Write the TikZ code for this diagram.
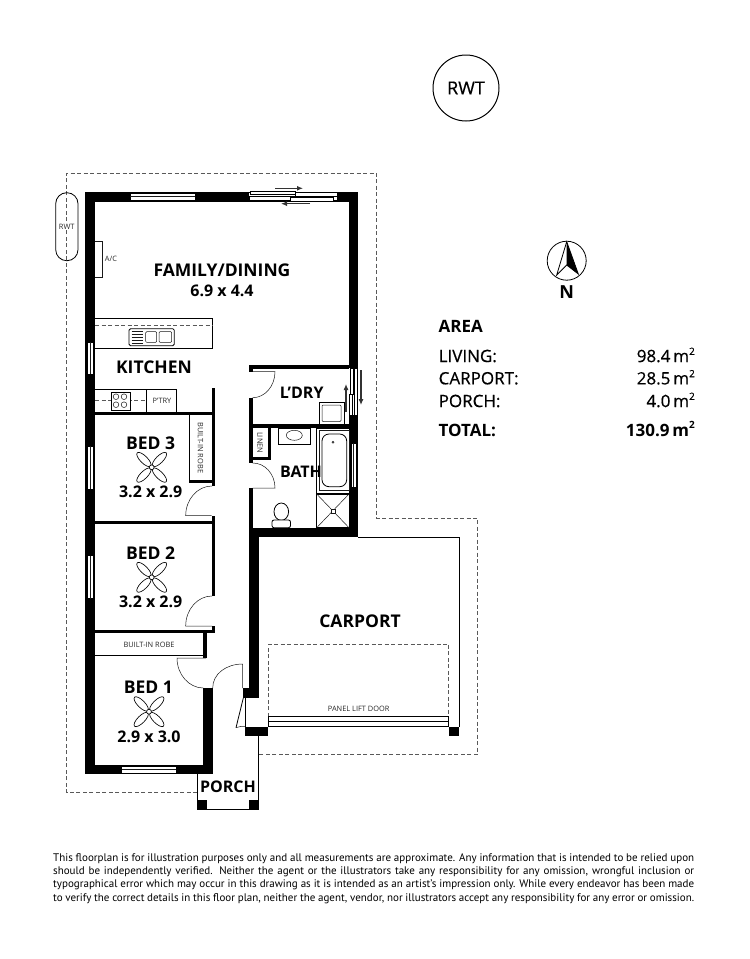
\documentclass[tikz,border=0pt]{standalone}
\usepackage{fontspec}
\setmainfont{Open Sans}
\newfontfamily\semi[FakeBold=0.5]{Open Sans}
\newfontfamily\finefont{PT Sans}
\usetikzlibrary{arrows.meta}
\tikzset{
    wall/.style={fill=black},
    fine/.style={draw=black, line width=0.8pt},
    hair/.style={draw=black!90, line width=0.5pt},
    pane/.style={draw=black, fill=white, line width=0.6pt},
    boundary/.style={draw=black!65, line width=0.6pt, dash pattern=on 4pt off 2.5pt},
    slide/.style={draw=black!80, line width=1.1pt, -{Latex[length=6pt,width=5pt]}},
    room/.style={font=\bfseries\fontsize{17.5}{18}\selectfont},
    wetroom/.style={font=\bfseries\fontsize{16}{16}\selectfont},
    size/.style={font=\bfseries\fontsize{16}{16}\selectfont},
    tiny/.style={font=\fontsize{7.4}{8}\selectfont, text=black!85},
    area/.style={font=\semi\fontsize{17}{17}\selectfont, anchor=west, inner sep=0pt},
    amount/.style={font=\semi\fontsize{17}{17}\selectfont, anchor=east, inner sep=0pt},
    sum/.style={font=\bfseries\fontsize{17}{17}\selectfont},
    blade/.style={draw=black, line width=0.65pt, fill=white},
}
\newcommand{\ceilingfan}[2]{%
    \foreach \a in {45,135,225,315}
        \draw[blade, rotate around={\a:(#1,#2)}] (#1+11,#2) ellipse (9.5 and 3.6);
    \draw[blade] (#1,#2) circle (2.4);
}
\newcommand{\wallpane}[4]{%
    \draw[pane] (#1,#2) rectangle (#3,#4);
}
\newcommand{\sqm}{\,m\raisebox{0.42em}{\fontsize{10}{10}\selectfont 2}}
\begin{document}
\begin{tikzpicture}[x=1pt,y=-1pt]
    \useasboundingbox (0,0) rectangle (750,959);

    % Site boundary
    \draw[boundary] (197,792.7) -- (66.7,792.7) -- (66.7,173) -- (376.7,173) -- (376.7,518)
        -- (477.7,518) -- (477.7,754) -- (259,754);

    % Tanks
    \draw[fine, line width=1pt] (466,88) circle (33);
    \node[font=\semi\fontsize{18}{18}\selectfont] (tankTop) at (466,88) {RWT};
    \draw[fine] [rounded corners=11pt] (55.7,192.7) rectangle (78,260.7);
    \node[tiny, fill=white, inner sep=1pt] (tankSide) at (66.7,226.7) {RWT};

    % Outer walls
    \fill[wall] (85,192) rectangle (358,201.7);
    \fill[wall] (85,192) rectangle (95,774);
    \fill[wall] (349,192) rectangle (358,368);
    \fill[wall] (349,415) rectangle (358,537);
    \fill[wall] (85,765) rectangle (212.7,774);
    \fill[wall] (249,527.7) rectangle (358,537);

    % Inner walls, bedrooms
    \fill[wall] (211.5,388) rectangle (215,486);
    \fill[wall] (95,412) rectangle (215,415.3);
    \fill[wall] (189,480) rectangle (215,483.3);
    \fill[wall] (211.7,516) rectangle (215,524);
    \fill[wall] (95,520.7) rectangle (215,524);
    \fill[wall] (211.7,524) rectangle (215,596);
    \fill[wall] (211.7,626) rectangle (215,633.3);
    \fill[wall] (95,630) rectangle (215,633.3);
    \fill[wall] (203.3,633) rectangle (206.7,658);
    \fill[wall] (203.3,688) rectangle (212.7,774);

    % Inner walls, wet areas
    \fill[wall] (249,364.5) rectangle (350,368.5);
    \fill[wall] (249,364.5) rectangle (252.7,372);
    \fill[wall] (249,398) rectangle (252.7,428);
    \fill[wall] (249,424) rectangle (350,428);
    \fill[wall] (249,428) rectangle (252.7,463);
    \fill[wall] (268,428) rectangle (271,460);
    \fill[wall] (249,457) rectangle (271,460);
    \fill[wall] (249,488) rectangle (252.7,528);
    \fill[wall] (249,527.7) rectangle (259,698);
    \fill[wall] (242.7,688) rectangle (259,698);

    % Pillars
    \fill[wall] (245,726.7) rectangle (267.7,736);
    \fill[wall] (449.3,726.7) rectangle (459,736);
    \fill[wall] (197,800) rectangle (206.7,809);
    \fill[wall] (249.3,800) rectangle (259,809);

    % Carport and porch
    \draw[fine] (358,537) -- (459,537) -- (459,727);
    \draw[fine] (245,698) -- (245,727);
    \draw[fine] (258.5,736) -- (258.5,809);
    \draw[fine] (197.3,774) -- (197.3,809) -- (258.5,809);
    \draw[boundary] (268.7,716.7) -- (268.7,644) -- (448.7,644) -- (448.7,716.7);
    \draw[pane, line width=0.8pt] (268,716.7) rectangle (448.3,726.7);
    \draw[fine] (268,721.7) -- (448.3,721.7);

    % Windows
    \wallpane{130}{193}{195}{200}
    \draw[hair] (130,196.5) -- (195,196.5);
    \wallpane{121.7}{766}{176}{773}
    \draw[hair] (121.7,769.5) -- (176,769.5);
    \foreach \top/\bot in {342/374,446/489,555.7/598.7} {
        \wallpane{87}{\top}{93}{\bot}
        \draw[hair] (90,\top) -- (90,\bot);
    }
    \wallpane{351}{443}{356}{487}
    \draw[hair] (353.5,443) -- (353.5,487);

    % Sliding door, top wall
    \fill[white] (249,193) rectangle (337,200);
    \draw[pane] (250,191.5) rectangle (295,194.7);
    \draw[pane] (249,196.3) rectangle (295,200);
    \draw[pane] (295,192.7) rectangle (337,196.7);
    \draw[pane] (290,197.7) rectangle (333,201.7);
    \draw[slide] (275,188.3) -- (303,188.3);
    \draw[slide] (310,203.7) -- (281,203.7);

    % Sliding door, laundry
    \fill[white] (349,368) rectangle (358,415);
    \draw[pane] (350,368) rectangle (353,394);
    \draw[pane] (349,394) rectangle (352.5,415);
    \draw[pane] (354.5,368) rectangle (357.5,415);
    \draw[slide] (346,412) -- (346,384);
    \draw[slide] (361,370) -- (361,405);

    % Doors
    \draw[hair] (211.7,515.7) -- (185.7,515.7) .. controls (185.7,499.4) and (197.4,486) .. (212,486);
    \draw[hair] (212,626) -- (185.7,626) .. controls (185.7,609.5) and (197.5,596) .. (212,596);
    \draw[hair] (206,658) -- (177,658) .. controls (177,674.5) and (189,688) .. (203.3,688);
    \draw[hair] (242.7,688) -- (242.7,664) .. controls (226,664) and (212.7,674) .. (212.7,688);
    \draw[hair] (252.7,371.7) -- (275,371.7) .. controls (275,386) and (265,397.7) .. (252.7,397.7);
    \draw[hair] (252.7,488) -- (275,488) .. controls (275,474) and (265,463) .. (252.7,463);
    \draw[fine] (243.3,698) -- (236,727.7);
    \draw[hair] (236,727.7) .. controls (239,726.5) and (242,726) .. (245,726.7);

    % Kitchen
    \draw[fine] (95,318.7) -- (212.7,318.7) -- (212.7,348) -- (95,348);
    \draw[boundary] (95,325.7) -- (212.7,325.7);
    \draw[fine, fill=white, rounded corners=1.5pt] (129,328.7) rectangle (174.3,345.7);
    \foreach \y in {331.5,334.5,337.5,340.5,343}
        \draw[hair] (131.7,\y) -- (143,\y);
    \draw[hair, rounded corners=1pt] (145.7,331.7) rectangle (156.7,342.3);
    \draw[hair, rounded corners=1pt] (159,331.7) rectangle (171.7,342.3);
    \draw[fine] (95,389) -- (176.5,389) -- (176.5,412);
    \draw[fine] (146,389) -- (146,412);
    \draw[boundary] (95,400.7) -- (146,400.7);
    \draw[fine, fill=white] (111,392.3) rectangle (130,410);
    \foreach \x in {116,124} \foreach \y in {396.7,404.7}
        \draw[hair] (\x,\y) circle (2.8);

    % Built-in robes, linen and A/C
    \draw[fine] (189,415) -- (189,480);
    \draw[fine] (95,655) -- (203.3,655);
    \draw[hair] (95,241) -- (102,241) -- (102,277) -- (95,277);

    % Laundry trough and vanity
    \draw[fine] (319,402) rectangle (344,424);
    \draw[hair, rounded corners=1pt] (322,405) rectangle (341,421.5);
    \draw[fine] (278,428) rectangle (310.7,444);
    \draw[hair] (294.3,435.3) ellipse (8 and 5);

    % Bath and shower
    \draw[fine] (316.7,428) rectangle (349,493);
    \draw[hair] (319,430) rectangle (349,490.7);
    \draw[fine, rounded corners=7pt] (322,434) rectangle (346.7,486.7);
    \draw[hair] (333,442.3) circle (1);
    \draw[fine] (316.7,494) rectangle (349,527.7);
    \draw[hair] (316.7,494) -- (349,527.7);
    \draw[hair] (349,494) -- (316.7,527.7);
    \draw[hair, fill=white] (331,509) rectangle (335,513);

    % Toilet
    \draw[fine] (281.3,511.7) ellipse (7.3 and 8.7);
    \draw[fine, fill=white, rounded corners=2pt] (272,520) rectangle (290.5,527.7);

    % Ceiling fans
    \ceilingfan{151.7}{467.3}
    \ceilingfan{151.7}{577.3}
    \ceilingfan{149}{711.7}

    % Room names
    \node[room] (family) at (222,270.3) {FAMILY/DINING};
    \node[size] (familySize) at (222,290.5) {6.9 x 4.4};
    \node[room] (kitchen) at (154,367) {KITCHEN};
    \node[wetroom] (laundry) at (301.7,392.3) {L’DRY};
    \node[wetroom] (bath) at (301,471.7) {BATH};
    \node[room] (bedThree) at (150.7,443.3) {BED 3};
    \node[size] (bedThreeSize) at (150.7,492.3) {3.2 x 2.9};
    \node[room] (bedTwo) at (150.7,552.7) {BED 2};
    \node[size] (bedTwoSize) at (150.7,601.7) {3.2 x 2.9};
    \node[room] (bedOne) at (148.3,687.7) {BED 1};
    \node[size] (bedOneSize) at (149,736.7) {2.9 x 3.0};
    \node[room] (carport) at (360,621) {CARPORT};
    \node[wetroom] (porch) at (228,787) {PORCH};

    % Small labels
    \node[tiny] (ac) at (111,259) {A/C};
    \node[tiny] (pantry) at (162,401) {P’TRY};
    \node[tiny, rotate=-90] (robeThree) at (200.5,447.7) {BUILT-IN ROBE};
    \node[tiny, rotate=-90] (linen) at (260,442.7) {LINEN};
    \node[tiny] (robeOne) at (149,645) {BUILT-IN ROBE};
    \node[tiny] (liftDoor) at (358.7,708.7) {PANEL LIFT DOOR};

    % North point
    \draw[fine] (566.7,260.7) circle (19.5);
    \draw[fine] (566.7,241.7) -- (556.7,275) -- (566.7,265) -- (578.3,274) -- cycle;
    \fill[black] (566.7,241.7) -- (566.7,265) -- (578.3,274) -- cycle;
    \node[font=\bfseries\fontsize{18}{18}\selectfont] (north) at (566.7,292.3) {N};

    % Area table
    \node[area, sum] (areaHead) at (438.5,326.7) {AREA};
    \node[area] (areaLiving) at (438.5,356) {LIVING:};
    \node[area] (areaCarport) at (438.5,378.3) {CARPORT:};
    \node[area] (areaPorch) at (438.5,401) {PORCH:};
    \node[area, sum] (areaTotal) at (438.5,430) {TOTAL:};
    \node[amount] (sumLiving) at (695,355) {98.4\sqm};
    \node[amount] (sumCarport) at (695,377.3) {28.5\sqm};
    \node[amount] (sumPorch) at (695,400) {4.0\sqm};
    \node[amount, sum] (sumTotal) at (695,429) {130.9\sqm};

    % Disclaimer
    \node[anchor=north west, inner sep=0pt, text width=641pt, align=justify,
        font=\finefont\fontsize{11}{13.2}\selectfont] (disclaimer) at (53,853.5) {\parfillskip=0pt
        This floorplan is for illustration purposes only and all measurements are approximate. Any information that is intended to be relied upon\linebreak
        should be independently verified. Neither the agent or the illustrators take any responsibility for any omission, wrongful inclusion or\linebreak
        typographical error which may occur in this drawing as it is intended as an artist’s impression only. While every endeavor has been made\linebreak
        to verify the correct details in this floor plan, neither the agent, vendor, nor illustrators accept any responsibility for any error or omission.};
\end{tikzpicture}
\end{document}
